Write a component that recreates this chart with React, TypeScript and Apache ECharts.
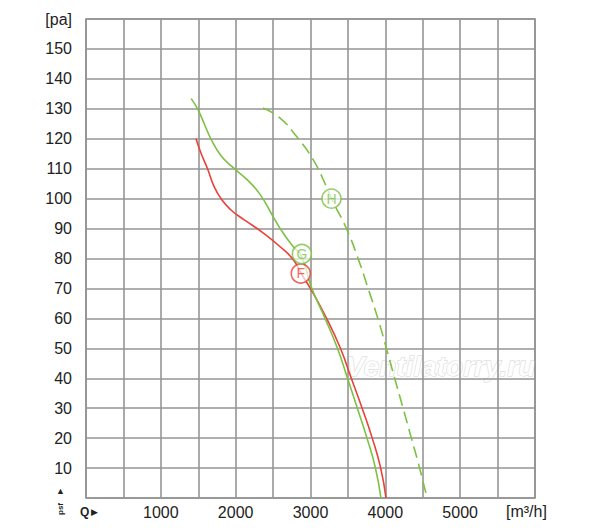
import React, { useEffect, useRef } from "react";
import * as echarts from "echarts";

// Curve F (red, solid)
const curveF: [number, number][] = [
  [1470, 120], [1540, 115], [1624, 110], [1712, 104], [1810, 99.8], [1934, 96.3],
  [2040, 94.2], [2180, 91.8], [2370, 88.5], [2590, 84], [2770, 79.6], [2870, 75.2],
  [3010, 69.5], [3215, 60], [3400, 50], [3545, 40], [3690, 30], [3825, 20], [3938, 10], [4009, 0],
];
// Curve G (green, solid)
const curveG: [number, number][] = [
  [1405, 133.4], [1491, 130], [1580, 125], [1668, 120], [1800, 114.5], [1960, 110.5],
  [2145, 106.5], [2323, 101.5], [2500, 94], [2634, 88.5], [2768, 84], [2880, 80.8],
  [3010, 70.5], [3195, 60], [3360, 50], [3495, 40], [3626, 30], [3755, 20], [3868, 10], [3941, 0],
];
// Curve H (green, dashed)
const curveH: [number, number][] = [
  [2365, 130.3], [2590, 127], [2812, 120.8], [3035, 113], [3213, 104], [3280, 100],
  [3480, 90], [3636, 80], [3770, 70], [3900, 60], [4014, 50], [4125, 40],
  [4237, 30], [4348, 20], [4458, 10], [4558, 0],
];

const markerNames = ["F", "G", "H"];
const markerX = [2870, 2885, 3280];
const markerY = [75, 81.5, 100];
const markerColors = ["#ea4139", "#7dc143", "#7dc143"];

const xTicks = [1000, 2000, 3000, 4000, 5000];
const xUnit = "[m³/h]";
const yUnit = "[pa]";

const RED = "#ea4139";
const GREEN = "#7dc143";
const FONT = "'Liberation Sans', Arial, sans-serif";

export default function App() {
  const ref = useRef<HTMLDivElement>(null);
  useEffect(() => {
    document.body.style.margin = "0";
    if (!ref.current) return;
    const chart = echarts.init(ref.current, null, { renderer: "svg" });
    const gridLine = { show: true, lineStyle: { color: "#959595", width: 1.6 } };
    chart.setOption({
      animation: false,
      backgroundColor: "#ffffff",
      grid: {
        left: 86, right: 65, top: 19, bottom: 33,
        show: true, borderColor: "#8a8a8a", borderWidth: 1.6,
        backgroundColor: "transparent",
      },
      xAxis: {
        type: "value", min: 0, max: 6000, interval: 500,
        axisLine: { show: false }, axisTick: { show: false },
        splitLine: gridLine,
        axisLabel: {
          show: true, interval: 0, margin: 6,
          fontFamily: FONT, fontSize: 16, color: "#222",
          formatter: (v: number) => (xTicks.includes(v) ? String(v) : ""),
        },
      },
      yAxis: {
        type: "value", min: 0, max: 160, interval: 10,
        axisLine: { show: false }, axisTick: { show: false },
        splitLine: gridLine,
        axisLabel: {
          show: true, margin: 14,
          fontFamily: FONT, fontSize: 16, color: "#222",
          formatter: (v: number) => (v === 160 ? yUnit : v === 0 ? "" : String(v)),
        },
      },
      graphic: [
        {
          type: "text", left: 506, top: 503,
          style: { text: xUnit, font: `16px ${FONT}`, fill: "#222" },
        },
        {
          type: "text", x: 346, y: 366, z: 0,
          style: {
            text: "Ventilatorry.ru", font: `italic bold 28px ${FONT}`,
            fill: "rgba(255,255,255,0.95)", stroke: "#d4d4d4", lineWidth: 1,
            verticalAlign: "middle",
          },
        },
        {
          type: "text", x: 56, y: 486,
          style: { text: "▲", font: `9px ${FONT}`, fill: "#222" },
        },
        {
          type: "text", x: 60, y: 509, rotation: Math.PI / 2,
          style: {
            text: "psf", font: `bold 8px ${FONT}`, fill: "#222",
            align: "center", verticalAlign: "middle",
          },
        },
        {
          type: "text", x: 80, y: 512,
          style: { text: "Q", font: `bold 12px ${FONT}`, fill: "#222", verticalAlign: "middle" },
        },
        {
          type: "text", x: 91, y: 512,
          style: { text: "▶", font: `9px ${FONT}`, fill: "#222", verticalAlign: "middle" },
        },
      ],
      series: [
        {
          type: "line", data: curveF, smooth: 0.5, symbol: "none",
          lineStyle: { color: RED, width: 1.6 }, z: 3,
        },
        {
          type: "line", data: curveG, smooth: 0.5, symbol: "none",
          lineStyle: { color: GREEN, width: 1.6 }, z: 4,
        },
        {
          type: "line", data: curveH, smooth: 0.5, symbol: "none",
          lineStyle: { color: GREEN, width: 1.6, type: [12, 6] }, z: 3,
        },
        {
          type: "scatter", z: 10, symbol: "circle", symbolSize: 19,
          data: markerNames.map((n, i) => ({
            name: n,
            value: [markerX[i], markerY[i]],
            itemStyle: { color: "rgba(255,255,255,0.85)", borderColor: markerColors[i], borderWidth: 1.6 },
            label: { color: markerColors[i] },
          })),
          label: {
            show: true, position: "inside", formatter: "{b}",
            fontFamily: FONT, fontSize: 14,
          },
        },
      ],
    });
    return () => chart.dispose();
  }, []);
  return <div ref={ref} style={{ width: 600, height: 531 }} />;
}
